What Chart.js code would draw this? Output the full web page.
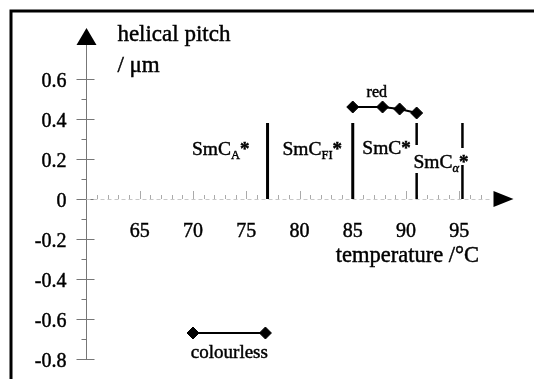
<!DOCTYPE html>
<html>
<head>
<meta charset="utf-8">
<script src="https://cdn.jsdelivr.net/npm/chart.js@4.4.1/dist/chart.umd.min.js"></script>
<style>
  html, body { margin: 0; padding: 0; background: #fff; }
  #wrap { width: 534px; height: 379px; }
</style>
</head>
<body>
<div id="wrap"><canvas id="pitchChart" width="534" height="379"></canvas></div>
<script>
// helical pitch against temperature across the smectic phases
const xTicks = [65, 70, 75, 80, 85, 90, 95];
const yTicks = [0.6, 0.4, 0.2, 0, -0.2, -0.4, -0.6, -0.8];

const redTemps = [85, 87.8, 89.4, 91];
const redPitch = [0.46, 0.46, 0.45, 0.43];

const colourlessTemps = [70, 76.8];
const colourlessPitch = [-0.67, -0.67];

// phase boundaries: [temperature, pitch from, pitch to]
const boundaries = [
  [77, 0, 0.38],
  [85, 0, 0.38],
  [91, 0.27, 0.38],
  [91, 0, 0.13],
  [95.3, 0.255, 0.38],
  [95.3, 0, 0.17]
];

const serif = '"Liberation Serif", "Times New Roman", serif';
const pairs = (xs, ys) => xs.map((x, i) => ({ x, y: ys[i] }));

const seriesStyle = {
  showLine: true,
  borderColor: '#000',
  borderWidth: 2,
  pointStyle: 'rectRot',
  pointRadius: 6,
  pointBackgroundColor: '#000',
  pointBorderColor: '#000',
  pointBorderWidth: 1
};

function hline(ctx, x1, y1, x2, y2) {
  ctx.beginPath();
  ctx.moveTo(x1, y1);
  ctx.lineTo(x2, y2);
  ctx.stroke();
}

// filled text with a thin outline so the serif glyphs read a little heavier
function inkText(ctx, str, px, py) {
  ctx.fillText(str, px, py);
  ctx.strokeText(str, px, py);
}

// frame, axes with arrows, ticks
const axesPlugin = {
  id: 'axes',
  beforeDatasetsDraw(chart) {
    const { ctx, scales: { x, y } } = chart;
    const x0 = x.getPixelForValue(60);
    const y0 = y.getPixelForValue(0);
    ctx.save();

    ctx.strokeStyle = '#000';
    ctx.lineWidth = 3;
    ctx.beginPath();
    ctx.moveTo(11, 379);
    ctx.lineTo(11, 11);
    ctx.lineTo(534, 11);
    ctx.stroke();

    // y axis
    const yTop = y.getPixelForValue(0.85);
    const yBot = y.getPixelForValue(-0.8);
    ctx.strokeStyle = '#777';
    ctx.lineWidth = 1;
    hline(ctx, x0, yBot, x0, yTop + 10);
    yTicks.forEach(v => {
      const p = Math.round(y.getPixelForValue(v)) + 0.5;
      hline(ctx, x0 - 10, p, x0 + 8, p);
      const m = Math.round(y.getPixelForValue(v + 0.1)) + 0.5;
      if (v + 0.1 < 0.65) hline(ctx, x0 - 5, m, x0, m);
    });
    ctx.fillStyle = '#000';
    ctx.beginPath();
    ctx.moveTo(x0, yTop - 1);
    ctx.lineTo(x0 + 10, yTop + 16);
    ctx.lineTo(x0 - 10, yTop + 16);
    ctx.closePath();
    ctx.fill();

    // x axis, faint and broken
    const xEnd = x.getPixelForValue(100);
    ctx.strokeStyle = '#c8c8c8';
    ctx.setLineDash([4, 3]);
    hline(ctx, x0, y0 + 0.5, xEnd - 20, y0 + 0.5);
    ctx.setLineDash([]);
    ctx.strokeStyle = '#aaa';
    for (let t = 61; t <= 97; t++) {
      const p = Math.round(x.getPixelForValue(t)) + 0.5;
      const len = xTicks.includes(t) ? 8 : 4;
      hline(ctx, p, y0, p, y0 - len);
    }
    ctx.fillStyle = '#000';
    ctx.beginPath();
    ctx.moveTo(xEnd + 1, y0);
    ctx.lineTo(xEnd - 19, y0 - 8);
    ctx.lineTo(xEnd - 19, y0 + 8);
    ctx.closePath();
    ctx.fill();
    ctx.restore();
  },
  afterDraw(chart) {
    const { ctx, scales: { x, y } } = chart;
    const x0 = x.getPixelForValue(60);
    ctx.save();
    ctx.fillStyle = '#000';
    ctx.strokeStyle = '#000';
    ctx.lineWidth = 0.45;

    // tick labels
    ctx.font = '20px ' + serif;
    ctx.textAlign = 'right';
    ctx.textBaseline = 'alphabetic';
    yTicks.forEach(v => {
      inkText(ctx, String(v), x0 - 20, y.getPixelForValue(v) + 8);
    });
    ctx.textAlign = 'center';
    xTicks.forEach(t => {
      inkText(ctx, String(t), x.getPixelForValue(t), 237);
    });

    // axis titles and annotations, anchored in data units
    ctx.textAlign = 'left';
    const at = (t, v) => [x.getPixelForValue(t), y.getPixelForValue(v)];
    const text = (str, size, t, v) => {
      ctx.font = size + 'px ' + serif;
      const [px, py] = at(t, v);
      inkText(ctx, str, px, py);
    };
    text('helical pitch', 23, 62.9, 0.79);
    text('/ \u03bcm', 23, 62.9, 0.635);
    text('temperature /\u00b0C', 22.5, 83.4, -0.315);
    text('red', 16, 86.3, 0.51);
    text('colourless', 19, 69.8, -0.795);

    const phase = (sub, italic, t, v) => {
      let [px, py] = at(t, v);
      ctx.font = '19.5px ' + serif;
      inkText(ctx, 'SmC', px, py);
      px += ctx.measureText('SmC').width;
      ctx.font = (italic ? 'italic ' : '') + '12.5px ' + serif;
      if (sub) {
        inkText(ctx, sub, px, py + 4);
        px += ctx.measureText(sub).width;
      }
      ctx.font = 'bold 19px ' + serif;
      inkText(ctx, '*', px, py);
    };
    phase('A', false, 69.9, 0.22);
    phase('FI', false, 78.4, 0.22);
    phase('', false, 85.9, 0.225);
    phase('\u03b1', true, 90.7, 0.155);
    ctx.restore();
  }
};

new Chart(document.getElementById('pitchChart'), {
  type: 'scatter',
  data: {
    datasets: [
      ...boundaries.map(([t, from, to]) => ({
        data: [{ x: t, y: from }, { x: t, y: to }],
        showLine: true,
        borderColor: '#000',
        borderWidth: t < 90 ? 3 : 2.5,
        pointRadius: 0
      })),
      { label: 'red', data: pairs(redTemps, redPitch), ...seriesStyle },
      { label: 'colourless', data: pairs(colourlessTemps, colourlessPitch), ...seriesStyle }
    ]
  },
  options: {
    responsive: false,
    animation: false,
    devicePixelRatio: 1,
    layout: { padding: { left: 86.5, right: 21.5, top: 29, bottom: 20 } },
    plugins: { legend: { display: false }, tooltip: { enabled: false } },
    scales: {
      x: { type: 'linear', min: 60, max: 100, display: false },
      y: { type: 'linear', min: -0.8, max: 0.85, display: false }
    }
  },
  plugins: [axesPlugin]
});
</script>
</body>
</html>
